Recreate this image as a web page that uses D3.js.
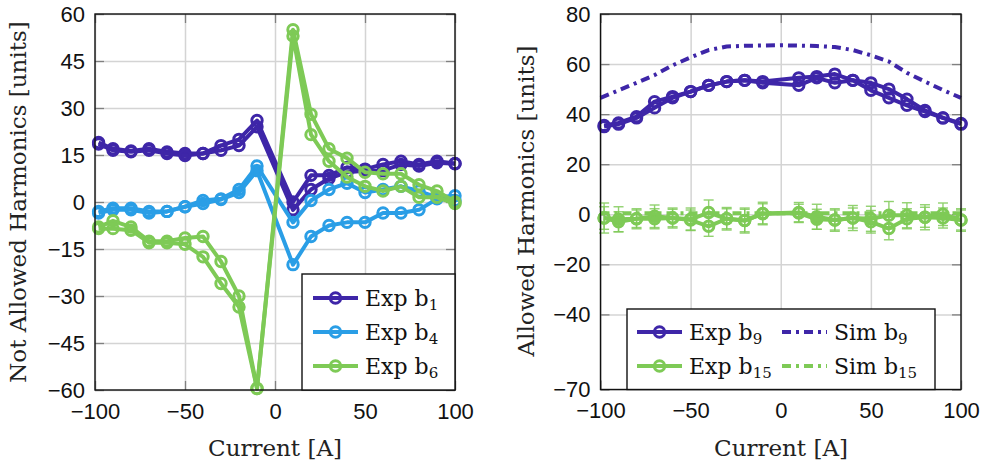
<!DOCTYPE html>
<html>
<head>
<meta charset="utf-8">
<script src="https://cdn.jsdelivr.net/npm/d3@7"></script>
<style>
  body { margin: 0; background: #fff; }
  svg { display: block; font-family: "DejaVu Serif", serif; }
  .grid line { stroke: #d4d4d4; stroke-width: 1.5; }
  .grid path { display: none; }
  .tk line { stroke: #808080; stroke-width: 1.3; }
  .tk path { display: none; }
  .lbl text { font-size: 22px; fill: #111; }
  .lbl path, .lbl line { display: none; }
</style>
</head>
<body>
<div id="chart"></div>
<script>
// measured currents (A); first point sits just inside -100
var current = [-98, -90, -80, -70, -60, -50, -40, -30, -20, -10,
               10, 20, 30, 40, 50, 60, 70, 80, 90, 100];
var simCurrent = [-100, -90, -80, -70, -60, -50, -40, -30, -20, -10, 0,
                  10, 20, 30, 40, 50, 60, 70, 80, 90, 100];

// left panel: not allowed harmonics, two sweeps each
var b1Up   = [19, 17, 16.3, 17, 16, 15.5, 15.5, 18, 20, 26, 0, 8.5, 8.5, 11, 10.5, 12, 13, 12, 13, 12.3];
var b1Down = [18.5, 16.5, 16, 16.5, 15.5, 14.8, 15.5, 16.5, 18, 24, -2.5, 4, 7.5, 9.5, 10, 10, 12, 11.5, 12.5, 12.2];
var b4Up   = [-3, -2, -2, -3, -3, -1.5, 0.5, 1, 4, 11.5, -6.5, 0.5, 4, 6, 3, 4, 5, 3.5, 1.5, 2];
var b4Down = [-3.5, -2.5, -2.5, -3.5, -3, -1.5, -0.5, 0.8, 3, 10, -20, -11, -7.5, -6.5, -6.5, -3.5, -3.5, -2.5, 1, 0.5];
var b6Up   = [-8, -6, -8, -12.5, -12.5, -11.5, -11, -19, -30, -59.5, 55, 28, 17, 14, 9.5, 9, 9, 5.5, 3.5, 0];
var b6Down = [-8.5, -8.5, -9, -13, -13, -13.5, -17.5, -26, -33.5, -59.5, 53, 21.5, 13, 8, 5, 3.5, 5, 1.5, 1.5, -0.5];

// right panel: allowed harmonics
var b9Up     = [35.5, 36.5, 39, 45, 47, 49, 51.5, 53, 53.5, 53, 54.5, 55, 56, 53.5, 52.5, 50, 46, 41.5, 38.5, 36.3];
var b9Down   = [35, 36, 38.5, 42.5, 46.5, 49, 51.5, 53, 53.5, 52.5, 51.5, 54.5, 52.5, 53.5, 49.5, 46.5, 43.5, 41, 38.5, 36];
var b15Up    = [-1.5, -2, -1.8, -0.8, -1.5, -2, 0.7, -1.8, -2.5, 0.3, 0.7, -1, -2.3, -1.5, -1.8, -0.4, -0.4, -1.2, 0, -2.3];
var b15Down  = [-1.5, -3, -1.8, -1.8, -1.5, -2.3, -4.8, -1.8, -2.5, 0.2, 0.5, -2, -2.3, -1.5, -3, -5.7, -1.8, -1.2, -1.5, -2.3];
var b15ErrUp   = [6, 5, 4, 4.5, 4, 4.5, 5, 4.5, 5, 4.5, 4, 5, 4.5, 5, 5, 5.5, 5, 5, 4.5, 4.5];
var b15ErrDown = [4.5, 4, 3.5, 4, 3.5, 4, 4, 4, 4.5, 4, 3.5, 4, 4, 4, 4.5, 4.5, 4, 4, 4, 4];
var simB9  = [46.5, 49.5, 52.5, 55.6, 59.5, 62.7, 65.6, 67, 67.3, 67.4, 67.5, 67.4, 67.2, 66.8, 65.6, 63.5, 61, 56.5, 53, 49.6, 46.5];
var simB15 = [0.4, 0.4, 0.4, 0.4, 0.4, 0.4, 0.4, 0.4, 0.4, 0.4, 0.4, 0.4, 0.4, 0.4, 0.4, 0.4, 0.4, 0.4, 0.4, 0.4, 0.4];

var xTicks = [-100, -50, 0, 50, 100];
var leftTicks = [-60, -45, -30, -15, 0, 15, 30, 45, 60];
var rightTicks = [-70, -40, -20, 0, 20, 40, 60, 80];

var purple = "#3e26a8", blue = "#2a9ee6", green = "#7eca56";

var svg = d3.select("#chart").append("svg")
    .attr("width", 987)
    .attr("height", 466);

function panel(box, yDomain, yTicks) {
  var x = d3.scaleLinear().domain([-100, 100]).range([box.x0, box.x1]);
  var y = d3.scaleLinear().domain(yDomain).range([box.y1, box.y0]);
  var g = svg.append("g");
  var w = box.x1 - box.x0, h = box.y1 - box.y0;

  g.append("g").attr("class", "grid")
    .attr("transform", "translate(0," + box.y1 + ")")
    .call(d3.axisBottom(x).tickValues(xTicks).tickSize(-h).tickFormat(""));
  g.append("g").attr("class", "grid")
    .attr("transform", "translate(" + box.x0 + ",0)")
    .call(d3.axisLeft(y).tickValues(yTicks).tickSize(-w).tickFormat(""));

  // short inner ticks on all sides
  g.append("g").attr("class", "tk").attr("transform", "translate(0," + box.y1 + ")")
    .call(d3.axisBottom(x).tickValues(xTicks).tickSize(-9).tickFormat(""));
  g.append("g").attr("class", "tk").attr("transform", "translate(0," + box.y0 + ")")
    .call(d3.axisTop(x).tickValues(xTicks).tickSize(-9).tickFormat(""));
  g.append("g").attr("class", "tk").attr("transform", "translate(" + box.x0 + ",0)")
    .call(d3.axisLeft(y).tickValues(yTicks).tickSize(-9).tickFormat(""));
  g.append("g").attr("class", "tk").attr("transform", "translate(" + box.x1 + ",0)")
    .call(d3.axisRight(y).tickValues(yTicks).tickSize(-9).tickFormat(""));

  g.append("g").attr("class", "lbl")
    .attr("transform", "translate(0," + box.y1 + ")")
    .call(d3.axisBottom(x).tickValues(xTicks).tickSize(0).tickPadding(13));
  g.append("g").attr("class", "lbl")
    .attr("transform", "translate(" + box.x0 + ",0)")
    .call(d3.axisLeft(y).tickValues(yTicks).tickSize(0).tickPadding(10));

  return { x: x, y: y, g: g, box: box };
}

function frame(p) {
  var b = p.box;
  p.g.append("rect")
    .attr("x", b.x0).attr("y", b.y0)
    .attr("width", b.x1 - b.x0).attr("height", b.y1 - b.y0)
    .attr("fill", "none").attr("stroke", "#111").attr("stroke-width", 1.4);
}

function series(p, xs, ys, color, opts) {
  opts = opts || {};
  var pts = xs.map(function(d, i) { return [d, ys[i]]; });
  var line = d3.line().x(function(d) { return p.x(d[0]); }).y(function(d) { return p.y(d[1]); });
  var s = p.g.append("g");
  if (opts.err) {
    var eb = s.append("g").attr("stroke", color).attr("stroke-width", 1.4).attr("opacity", 0.85);
    pts.forEach(function(d, i) {
      var cx = p.x(d[0]), lo = p.y(d[1] - opts.err[i]), hi = p.y(d[1] + opts.err[i]);
      eb.append("line").attr("x1", cx).attr("x2", cx).attr("y1", lo).attr("y2", hi);
      eb.append("line").attr("x1", cx - 5).attr("x2", cx + 5).attr("y1", lo).attr("y2", lo);
      eb.append("line").attr("x1", cx - 5).attr("x2", cx + 5).attr("y1", hi).attr("y2", hi);
    });
  }
  s.append("path").datum(pts)
    .attr("d", line)
    .attr("fill", "none")
    .attr("stroke", color)
    .attr("stroke-width", 4)
    .attr("stroke-linejoin", "round")
    .attr("stroke-dasharray", opts.dash || null);
  if (opts.markers !== false) {
    s.selectAll("circle").data(pts).enter().append("circle")
      .attr("cx", function(d) { return p.x(d[0]); })
      .attr("cy", function(d) { return p.y(d[1]); })
      .attr("r", 5.2)
      .attr("fill", "none")
      .attr("stroke", color)
      .attr("stroke-width", 3);
  }
}

function legendEntry(g, x, y, color, name, sub, dash) {
  var e = g.append("g");
  e.append("line").attr("x1", x).attr("x2", x + 45).attr("y1", y).attr("y2", y)
    .attr("stroke", color).attr("stroke-width", 4)
    .attr("stroke-dasharray", dash || null);
  if (!dash) {
    e.append("circle").attr("cx", x + 22.5).attr("cy", y).attr("r", 5.2)
      .attr("fill", "none").attr("stroke", color).attr("stroke-width", 3);
  }
  var t = e.append("text").attr("x", x + 52).attr("y", y + 8)
    .attr("font-size", 22).attr("fill", "#111");
  t.append("tspan").text(name + " b");
  t.append("tspan").attr("font-size", 15).attr("dy", 4).text(sub);
}

// ---- left panel
var L = panel({ x0: 95, x1: 455, y0: 14, y1: 390 }, [-60, 60], leftTicks);
series(L, current, b1Up, purple);
series(L, current, b1Down, purple);
series(L, current, b4Up, blue);
series(L, current, b4Down, blue);
series(L, current, b6Up, green);
series(L, current, b6Down, green);
frame(L);

var lg = L.g.append("g");
lg.append("rect").attr("x", 302).attr("y", 274).attr("width", 153).attr("height", 116)
  .attr("fill", "#fff").attr("stroke", "#111").attr("stroke-width", 1.4);
legendEntry(lg, 313, 298, purple, "Exp", "1");
legendEntry(lg, 313, 332, blue, "Exp", "4");
legendEntry(lg, 313, 366, green, "Exp", "6");

// ---- right panel
var R = panel({ x0: 600.5, x1: 961, y0: 14, y1: 389.5 }, [-70, 80], rightTicks);
series(R, current, b9Up, purple);
series(R, current, b9Down, purple);
series(R, simCurrent, simB9, purple, { markers: false, dash: "9,5,3,5" });
series(R, simCurrent, simB15, green, { markers: false, dash: "9,5,3,5" });
series(R, current, b15Up, green, { err: b15ErrUp });
series(R, current, b15Down, green, { err: b15ErrDown });
frame(R);

var rg = R.g.append("g");
rg.append("rect").attr("x", 627).attr("y", 309).attr("width", 308).attr("height", 80.5)
  .attr("fill", "#fff").attr("stroke", "#111").attr("stroke-width", 1.4);
legendEntry(rg, 637, 332, purple, "Exp", "9");
legendEntry(rg, 637, 366, green, "Exp", "15");
legendEntry(rg, 782, 332, purple, "Sim", "9", "9,5,3,5");
legendEntry(rg, 782, 366, green, "Sim", "15", "9,5,3,5");

// axis titles
svg.append("text").attr("x", 275).attr("y", 456).attr("text-anchor", "middle")
  .attr("font-size", 23).attr("fill", "#222").text("Current [A]");
svg.append("text").attr("x", 781).attr("y", 456).attr("text-anchor", "middle")
  .attr("font-size", 23).attr("fill", "#222").text("Current [A]");
svg.append("text").attr("transform", "translate(26,202) rotate(-90)").attr("text-anchor", "middle")
  .attr("font-size", 23).attr("fill", "#222").text("Not Allowed Harmonics [units]");
svg.append("text").attr("transform", "translate(534,201) rotate(-90)").attr("text-anchor", "middle")
  .attr("font-size", 23).attr("fill", "#222").text("Allowed Harmonics [units]");
</script>
</body>
</html>
